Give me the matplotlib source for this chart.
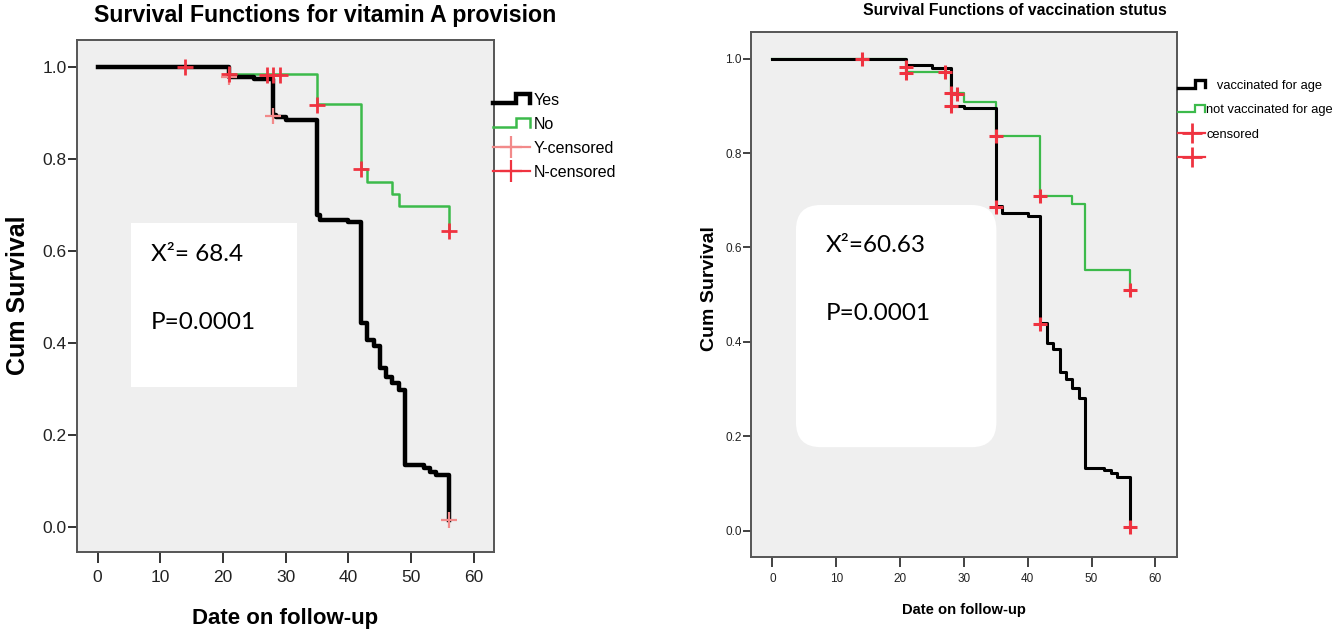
import numpy as np
import matplotlib
matplotlib.use('Agg')
import matplotlib.pyplot as plt
from matplotlib.lines import Line2D
from matplotlib.patches import FancyBboxPatch
from matplotlib.legend_handler import HandlerBase

# --- data ---
# left: vitamin A provision
yes_t = [0, 21, 25, 28, 28.5, 30, 35, 35.5, 40, 42, 43, 44, 45, 46, 47, 48, 49, 52, 53, 54, 56]
yes_s = [1.0, 0.979, 0.974, 0.896, 0.891, 0.885, 0.678, 0.667, 0.663, 0.444, 0.407, 0.394,
         0.346, 0.327, 0.313, 0.298, 0.135, 0.128, 0.120, 0.113, 0.015]
no_t = [0, 21, 35, 42, 43, 47, 48, 56]
no_s = [1.0, 0.986, 0.920, 0.778, 0.751, 0.724, 0.698, 0.643]
ycens_t = [21, 28, 56]
ycens_s = [0.979, 0.893, 0.015]
ncens_t = [14, 21, 27, 28, 29, 35, 42, 56]
ncens_s = [1.0, 0.986, 0.983, 0.983, 0.983, 0.918, 0.778, 0.643]

# right: vaccination status
vac_t = [0, 21, 25, 28, 30, 35, 36, 40, 42, 43, 44, 45, 46, 47, 48, 49, 52, 53, 54, 56]
vac_s = [1.0, 0.987, 0.980, 0.900, 0.895, 0.688, 0.674, 0.667, 0.439, 0.397, 0.384, 0.337,
         0.321, 0.302, 0.281, 0.132, 0.129, 0.123, 0.113, 0.007]
nvac_t = [0, 21, 28, 30, 35, 42, 47, 49, 56]
nvac_s = [1.0, 0.971, 0.927, 0.909, 0.836, 0.710, 0.692, 0.552, 0.510]
cens_t = [14, 21, 21, 27, 28, 28, 29, 35, 35, 42, 42, 56, 56]
cens_s = [1.0, 0.982, 0.970, 0.972, 0.927, 0.900, 0.925, 0.836, 0.686, 0.710, 0.437, 0.510, 0.007]

xticks = [0, 10, 20, 30, 40, 50, 60]
yticks = [0.0, 0.2, 0.4, 0.6, 0.8, 1.0]

BG = '#efefef'
GREEN = '#3cba4b'
RED = '#ef3340'
PINK = '#f28a8a'
SANS = ['Liberation Sans', 'DejaVu Sans']
BOXFONT = ['Lato', 'DejaVu Sans']


class StepHandler(HandlerBase):
    # draws the little step glyph SPSS puts in its legends
    def create_artists(self, legend, orig_handle, xdescent, ydescent, width, height, fontsize, trans):
        x = np.array([0.0, 0.62, 0.62, 1.0, 1.0]) * width - xdescent
        y = np.array([0.15, 0.15, 0.95, 0.95, 0.2]) * height - ydescent
        ln = Line2D(x, y, color=orig_handle.get_color(), lw=orig_handle.get_linewidth(),
                    solid_joinstyle='miter')
        ln.set_transform(trans)
        return [ln]


fig = plt.figure(figsize=(13.38, 6.34), dpi=100)
fig.patch.set_facecolor('white')

ax1 = fig.add_axes([0.0575, 0.1293, 0.3117, 0.8076])
ax2 = fig.add_axes([0.5613, 0.1219, 0.3184, 0.8281])

for ax in (ax1, ax2):
    ax.set_facecolor(BG)
    for sp in ax.spines.values():
        sp.set_color('#555555')
        sp.set_linewidth(1.4)
    ax.set_xticks(xticks)
    ax.set_yticks(yticks)
    ax.set_yticklabels([f'{v:.1f}' for v in yticks])

# ---------- left chart ----------
ax1.set_xlim(-3.3, 63.2)
ax1.set_ylim(-0.054, 1.059)
ax1.step(no_t, no_s, where='post', color=GREEN, lw=1.8, zorder=3)
ax1.step(yes_t, yes_s, where='post', color='black', lw=3.2, zorder=4)
ax1.plot(ycens_t, ycens_s, ls='none', marker='+', ms=11, mew=1.6, color=PINK, zorder=5)
ax1.plot(ncens_t, ncens_s, ls='none', marker='+', ms=11, mew=2.0, color=RED, zorder=5)

ax1.tick_params(axis='x', direction='out', length=8, width=1.4, color='#333333', pad=5,
                labelsize=12.5, labelcolor='#222222')
ax1.tick_params(axis='y', direction='out', length=6.5, width=1.4, color='#333333', pad=1,
                labelsize=12.5, labelcolor='#222222')
for lab in ax1.get_xticklabels() + ax1.get_yticklabels():
    lab.set_family(SANS)

ax1.set_title('Survival Functions for vitamin A provision', family=SANS, fontsize=16.7,
              fontweight='bold', x=0.596, y=1.0195, va='baseline')
ax1.set_xlabel('Date on follow-up', family=SANS, fontsize=16, fontweight='bold')
ax1.xaxis.set_label_coords(0.499, -0.109)
ax1.xaxis.label.set_va('top')
ax1.set_ylabel('Cum Survival', family=SANS, fontsize=18, fontweight='bold')
ax1.yaxis.set_label_coords(-0.113, 0.502)

box1 = FancyBboxPatch((5.3, 0.305), 26.5, 0.356, boxstyle='square,pad=0',
                      fc='white', ec='none', zorder=2)
ax1.add_patch(box1)
ax1.text(8.5, 0.579, 'X²= 68.4', family=BOXFONT, fontsize=17.5, va='baseline', zorder=6)
ax1.text(8.5, 0.430, 'P=0.0001', family=BOXFONT, fontsize=17.5, va='baseline', zorder=6)

h_yes = Line2D([], [], color='black', lw=3.2)
h_no = Line2D([], [], color=GREEN, lw=1.8)
h_yc = Line2D([], [], color=PINK, lw=1.6, marker='+', ms=16, mew=1.6)
h_nc = Line2D([], [], color=RED, lw=1.6, marker='+', ms=16, mew=1.6)
fig.legend([h_yes, h_no, h_yc, h_nc], ['Yes', 'No', 'Y-censored', 'N-censored'],
           loc='upper left', bbox_to_anchor=(493 / 1338, 1 - 93 / 634), frameon=False,
           prop={'family': SANS, 'size': 11.5}, handlelength=2.3, handletextpad=0.25,
           labelspacing=0.56, borderaxespad=0, borderpad=0, numpoints=1,
           handler_map={h_yes: StepHandler(), h_no: StepHandler()})

# ---------- right chart ----------
ax2.set_xlim(-3.34, 63.4)
ax2.set_ylim(-0.055, 1.057)
ax2.step(nvac_t, nvac_s, where='post', color=GREEN, lw=1.6, zorder=3)
ax2.step(vac_t, vac_s, where='post', color='black', lw=2.2, zorder=4)
ax2.plot(cens_t, cens_s, ls='none', marker='+', ms=10, mew=2.2, color=RED, zorder=5)

ax2.tick_params(axis='x', direction='out', length=7.5, width=1.3, color='#333333', pad=4.5,
                labelsize=8.5, labelcolor='#222222')
ax2.tick_params(axis='y', direction='out', length=6, width=1.3, color='#333333', pad=0.5,
                labelsize=8.5, labelcolor='#222222')
for lab in ax2.get_xticklabels() + ax2.get_yticklabels():
    lab.set_family(SANS)

ax2.set_title('Survival Functions of vaccination stutus', family=SANS, fontsize=11.3,
              fontweight='bold', x=0.62, y=1.016, va='baseline')
ax2.set_xlabel('Date on follow-up', family=SANS, fontsize=10.6, fontweight='bold')
ax2.xaxis.set_label_coords(0.499, -0.088)
ax2.xaxis.label.set_va('top')
ax2.set_ylabel('Cum Survival', family=SANS, fontsize=14, fontweight='bold')
ax2.yaxis.set_label_coords(-0.077, 0.51)

box2 = FancyBboxPatch((3.7, 0.177), 31.4, 0.513, boxstyle='round,pad=0,rounding_size=3.9',
                      mutation_aspect=0.0136, fc='white', ec='none', zorder=2)
ax2.add_patch(box2)
ax2.text(8.3, 0.591, 'X²=60.63', family=BOXFONT, fontsize=17.5, va='baseline', zorder=6)
ax2.text(8.3, 0.446, 'P=0.0001', family=BOXFONT, fontsize=17.5, va='baseline', zorder=6)

h_v = Line2D([], [], color='black', lw=2.4)
h_nv = Line2D([], [], color=GREEN, lw=1.6)
h_c1 = Line2D([], [], color=RED, lw=1.6, marker='+', ms=15, mew=2.0)
h_c2 = Line2D([], [], color=RED, lw=1.6, marker='+', ms=15, mew=2.0)
fig.legend([h_v, h_nv, h_c1, h_c2],
           ['   vaccinated for age', 'not vaccinated for age', 'censored', ''],
           loc='upper left', bbox_to_anchor=(1178 / 1338, 1 - 80 / 634), frameon=False,
           prop={'family': SANS, 'size': 9.3}, handlelength=2.1, handletextpad=0.1,
           labelspacing=0.95, borderaxespad=0, borderpad=0, numpoints=1,
           handler_map={h_v: StepHandler(), h_nv: StepHandler()})

fig.savefig('out.png', dpi=100)
